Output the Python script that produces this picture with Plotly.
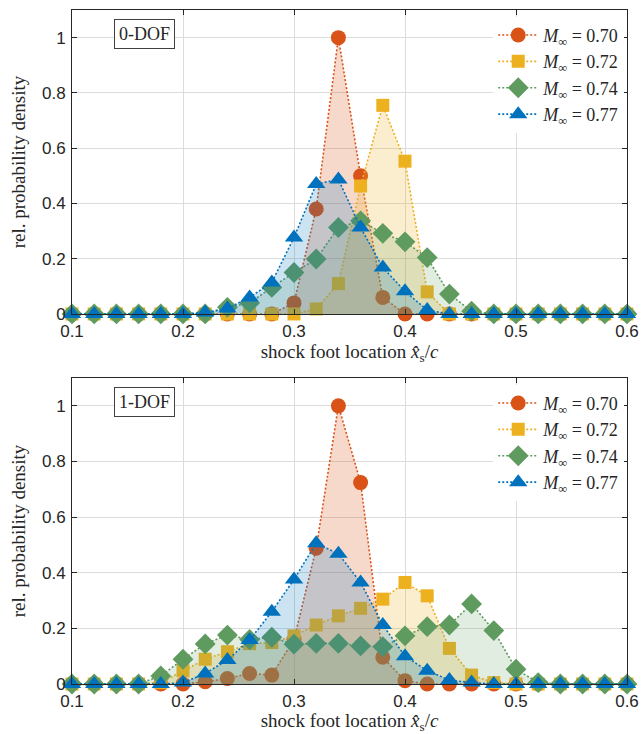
import plotly.graph_objects as go

x_pos = [round(0.1 + 0.02 * i, 2) for i in range(26)]

mach_labels = ["0.70", "0.72", "0.74", "0.77"]

# 0-DOF (top panel)
dof0_m070 = [0, 0, 0, 0, 0, 0, 0, 0, 0, 0, 0.04, 0.38, 1.0, 0.50, 0.06, 0, 0, 0, 0, 0, 0, 0, 0, 0, 0, 0]
dof0_m072 = [0, 0, 0, 0, 0, 0, 0, 0, 0, 0, 0.0, 0.018, 0.11, 0.463, 0.755, 0.553, 0.08, 0.0, 0, 0, 0, 0, 0, 0, 0, 0]
dof0_m074 = [0, 0, 0, 0, 0, 0, 0, 0.024, 0.04, 0.096, 0.15, 0.199, 0.313, 0.337, 0.292, 0.261, 0.204, 0.072, 0.01, 0, 0, 0, 0, 0, 0, 0]
dof0_m077 = [0, 0, 0, 0, 0, 0, 0.005, 0.02, 0.06, 0.114, 0.277, 0.47, 0.487, 0.313, 0.168, 0.082, 0.014, 0.0, 0, 0, 0, 0, 0, 0, 0, 0]

# 1-DOF (bottom panel)
dof1_m070 = [0, 0, 0, 0, 0, 0, 0.008, 0.02, 0.038, 0.032, 0.16, 0.488, 1.0, 0.724, 0.096, 0.012, 0, 0, 0, 0, 0, 0, 0, 0, 0, 0]
dof1_m072 = [0, 0, 0, 0, 0.005, 0.048, 0.089, 0.116, 0.145, 0.149, 0.173, 0.212, 0.245, 0.272, 0.305, 0.365, 0.317, 0.128, 0.032, 0.005, 0, 0, 0, 0, 0, 0]
dof1_m074 = [0, 0, 0, 0, 0.029, 0.089, 0.144, 0.176, 0.16, 0.168, 0.143, 0.146, 0.146, 0.137, 0.134, 0.173, 0.206, 0.212, 0.288, 0.192, 0.053, 0.005, 0, 0, 0, 0]
dof1_m077 = [0, 0, 0, 0, 0, 0.005, 0.038, 0.086, 0.158, 0.26, 0.376, 0.506, 0.468, 0.365, 0.212, 0.10, 0.048, 0.014, 0.005, 0, 0, 0, 0, 0, 0, 0]

x_ticks = [0.1, 0.2, 0.3, 0.4, 0.5, 0.6]
x_tick_text = ["0.1", "0.2", "0.3", "0.4", "0.5", "0.6"]
y_ticks = [0, 0.2, 0.4, 0.6, 0.8, 1]
y_tick_text = ["0", "0.2", "0.4", "0.6", "0.8", "1"]
panel_labels = ["0-DOF", "1-DOF"]

colors = ["#D95319", "#EDB120", "#5F9A5F", "#0072BD"]
fills = ["rgba(217,83,25,0.22)", "rgba(237,177,32,0.22)", "rgba(95,154,95,0.18)", "rgba(0,114,189,0.2)"]
symbols = ["circle", "square", "diamond", "triangle-up"]
sizes = [15, 13, 16, 16]

SERIF = "Liberation Serif"
SANS = "Liberation Sans"

fig = go.Figure()

panels = [
    ([dof0_m070, dof0_m072, dof0_m074, dof0_m077], "x", "y", "legend"),
    ([dof1_m070, dof1_m072, dof1_m074, dof1_m077], "x2", "y2", "legend2"),
]

for series, xa, ya, leg in panels:
    for i, vals in enumerate(series):
        fig.add_trace(go.Scatter(
            x=x_pos, y=vals, xaxis=xa, yaxis=ya, mode="none",
            fill="tozeroy", fillcolor=fills[i], showlegend=False, hoverinfo="skip"))
        fig.add_trace(go.Scatter(
            x=x_pos, y=vals, xaxis=xa, yaxis=ya, mode="lines+markers",
            line=dict(color=colors[i], width=1.6, dash="2px,2px"),
            marker=dict(symbol=symbols[i], size=sizes[i], color=colors[i],
                        line=dict(color=colors[i], width=0)),
            name="<i>M</i><sub>∞</sub> = " + mach_labels[i],
            legend=leg, cliponaxis=False))

axis_common = dict(
    showline=True, linecolor="#262626", linewidth=1, mirror="ticks",
    ticks="inside", ticklen=5, tickcolor="#262626",
    showgrid=True, gridcolor="#DCDCDC", gridwidth=1, zeroline=False,
    automargin=False,
    tickfont=dict(family=SANS, size=17, color="#262626"),
)

xtitle = "shock foot location <i>x̂</i><sub>s</sub>/<i>c</i>"
ytitle = "rel. probability density"
title_font = dict(family=SERIF, size=19, color="#262626")

fig.update_layout(
    width=644, height=734,
    paper_bgcolor="white", plot_bgcolor="white",
    margin=dict(l=72, r=17, t=10, b=50),
    font=dict(family=SERIF, size=17, color="#262626"),
    xaxis=dict(axis_common, domain=[0, 1], anchor="y", range=[0.1, 0.6],
               tickvals=x_ticks, ticktext=x_tick_text, ticklabelstandoff=2,
               title=dict(text=xtitle, standoff=3, font=title_font)),
    yaxis=dict(axis_common, domain=[0.549, 1.0], anchor="x", range=[0, 1.1],
               tickvals=y_ticks, ticktext=y_tick_text, ticklabelstandoff=2,
               title=dict(text=ytitle, standoff=11, font=title_font)),
    xaxis2=dict(axis_common, domain=[0, 1], anchor="y2", range=[0.1, 0.6],
                tickvals=x_ticks, ticktext=x_tick_text, ticklabelstandoff=2,
                title=dict(text=xtitle, standoff=3, font=title_font)),
    yaxis2=dict(axis_common, domain=[0.0, 0.454], anchor="x2", range=[0, 1.1],
                tickvals=y_ticks, ticktext=y_tick_text, ticklabelstandoff=2,
                title=dict(text=ytitle, standoff=11, font=title_font)),
    legend=dict(x=0.995, y=0.99, xanchor="right", yanchor="top",
                bgcolor="white", borderwidth=0, font=dict(family=SERIF, size=18),
                itemwidth=40, tracegroupgap=0),
    legend2=dict(x=0.995, y=0.444, xanchor="right", yanchor="top",
                 bgcolor="white", borderwidth=0, font=dict(family=SERIF, size=18),
                 itemwidth=40, tracegroupgap=0),
    showlegend=True,
)

for lbl, xa, ya in [(panel_labels[0], "x", "y"), (panel_labels[1], "x2", "y2")]:
    fig.add_annotation(
        text=lbl, xref=xa + " domain", yref=ya + " domain", x=0.075, y=0.97,
        xanchor="left", yanchor="top", showarrow=False,
        font=dict(family=SERIF, size=18, color="#262626"),
        bordercolor="#404040", borderwidth=1, borderpad=4, bgcolor="white")

fig.write_html(
    "out.html",
    config={"displayModeBar": False},
    post_script="document.body.style.margin='0';document.body.style.overflow='hidden';",
)
